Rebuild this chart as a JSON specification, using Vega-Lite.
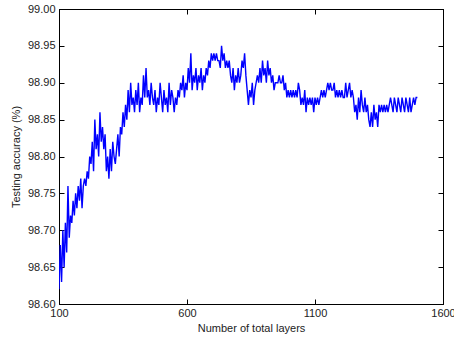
{
  "$schema": "https://vega.github.io/schema/vega-lite/v6.json",
  "width": 384,
  "height": 295,
  "autosize": {"type": "none"},
  "padding": {"left": 59, "top": 9, "right": 11, "bottom": 37},
  "background": "white",
  "config": {
    "view": {"stroke": "black", "strokeWidth": 1},
    "font": "Liberation Sans",
    "axis": {"grid": false, "domainColor": "black", "tickColor": "black", "labelColor": "#222", "titleColor": "#222", "labelFontSize": 11, "titleFontSize": 11, "titleFontWeight": "normal", "labelFont": "Liberation Sans", "titleFont": "Liberation Sans"}
  },
  "data": {"values": [
{"x":100,"y":98.62},{"x":105,"y":98.68},{"x":110,"y":98.63},{"x":115,"y":98.70},{"x":120,"y":98.65},{"x":125,"y":98.71},{"x":130,"y":98.67},{"x":135,"y":98.76},{"x":140,"y":98.69},{"x":145,"y":98.72},
{"x":150,"y":98.71},{"x":155,"y":98.74},{"x":160,"y":98.72},{"x":165,"y":98.75},{"x":170,"y":98.73},{"x":175,"y":98.76},{"x":180,"y":98.74},{"x":185,"y":98.77},{"x":190,"y":98.73},{"x":195,"y":98.76},
{"x":200,"y":98.77},{"x":205,"y":98.76},{"x":210,"y":98.78},{"x":215,"y":98.77},{"x":220,"y":98.80},{"x":225,"y":98.79},{"x":230,"y":98.82},{"x":235,"y":98.78},{"x":240,"y":98.85},{"x":245,"y":98.81},
{"x":250,"y":98.83},{"x":255,"y":98.80},{"x":260,"y":98.86},{"x":265,"y":98.82},{"x":270,"y":98.84},{"x":275,"y":98.81},{"x":280,"y":98.83},{"x":285,"y":98.78},{"x":290,"y":98.80},{"x":295,"y":98.77},
{"x":300,"y":98.81},{"x":305,"y":98.78},{"x":310,"y":98.82},{"x":315,"y":98.80},{"x":320,"y":98.79},{"x":325,"y":98.81},{"x":330,"y":98.83},{"x":335,"y":98.80},{"x":340,"y":98.84},{"x":345,"y":98.83},
{"x":350,"y":98.86},{"x":355,"y":98.84},{"x":360,"y":98.87},{"x":365,"y":98.85},{"x":370,"y":98.89},{"x":375,"y":98.86},{"x":380,"y":98.90},{"x":385,"y":98.87},{"x":390,"y":98.88},{"x":395,"y":98.86},
{"x":400,"y":98.89},{"x":405,"y":98.87},{"x":410,"y":98.90},{"x":415,"y":98.86},{"x":420,"y":98.88},{"x":425,"y":98.87},{"x":430,"y":98.91},{"x":435,"y":98.88},{"x":440,"y":98.92},{"x":445,"y":98.88},
{"x":450,"y":98.89},{"x":455,"y":98.87},{"x":460,"y":98.90},{"x":465,"y":98.88},{"x":470,"y":98.87},{"x":475,"y":98.89},{"x":480,"y":98.86},{"x":485,"y":98.88},{"x":490,"y":98.87},{"x":495,"y":98.90},
{"x":500,"y":98.88},{"x":505,"y":98.86},{"x":510,"y":98.89},{"x":515,"y":98.87},{"x":520,"y":98.88},{"x":525,"y":98.86},{"x":530,"y":98.90},{"x":535,"y":98.87},{"x":540,"y":98.89},{"x":545,"y":98.88},
{"x":550,"y":98.86},{"x":555,"y":98.88},{"x":560,"y":98.87},{"x":565,"y":98.89},{"x":570,"y":98.88},{"x":575,"y":98.90},{"x":580,"y":98.89},{"x":585,"y":98.91},{"x":590,"y":98.88},{"x":595,"y":98.90},
{"x":600,"y":98.89},{"x":605,"y":98.92},{"x":610,"y":98.90},{"x":615,"y":98.94},{"x":620,"y":98.89},{"x":625,"y":98.91},{"x":630,"y":98.90},{"x":635,"y":98.92},{"x":640,"y":98.89},{"x":645,"y":98.91},
{"x":650,"y":98.90},{"x":655,"y":98.92},{"x":660,"y":98.89},{"x":665,"y":98.91},{"x":670,"y":98.90},{"x":675,"y":98.92},{"x":680,"y":98.91},{"x":685,"y":98.93},{"x":690,"y":98.92},{"x":695,"y":98.94},
{"x":700,"y":98.93},{"x":705,"y":98.94},{"x":710,"y":98.93},{"x":715,"y":98.94},{"x":720,"y":98.93},{"x":725,"y":98.93},{"x":730,"y":98.92},{"x":735,"y":98.95},{"x":740,"y":98.93},{"x":745,"y":98.94},
{"x":750,"y":98.92},{"x":755,"y":98.93},{"x":760,"y":98.92},{"x":765,"y":98.93},{"x":770,"y":98.91},{"x":775,"y":98.90},{"x":780,"y":98.92},{"x":785,"y":98.89},{"x":790,"y":98.91},{"x":795,"y":98.90},
{"x":800,"y":98.92},{"x":805,"y":98.90},{"x":810,"y":98.91},{"x":815,"y":98.93},{"x":820,"y":98.92},{"x":825,"y":98.94},{"x":830,"y":98.91},{"x":835,"y":98.89},{"x":840,"y":98.87},{"x":845,"y":98.89},
{"x":850,"y":98.88},{"x":855,"y":98.90},{"x":860,"y":98.87},{"x":865,"y":98.89},{"x":870,"y":98.90},{"x":875,"y":98.91},{"x":880,"y":98.90},{"x":885,"y":98.92},{"x":890,"y":98.90},{"x":895,"y":98.93},
{"x":900,"y":98.91},{"x":905,"y":98.92},{"x":910,"y":98.90},{"x":915,"y":98.93},{"x":920,"y":98.91},{"x":925,"y":98.92},{"x":930,"y":98.90},{"x":935,"y":98.91},{"x":940,"y":98.89},{"x":945,"y":98.90},
{"x":950,"y":98.90},{"x":955,"y":98.90},{"x":960,"y":98.91},{"x":965,"y":98.90},{"x":970,"y":98.90},{"x":975,"y":98.91},{"x":980,"y":98.89},{"x":985,"y":98.90},{"x":990,"y":98.88},{"x":995,"y":98.89},
{"x":1000,"y":98.88},{"x":1005,"y":98.89},{"x":1010,"y":98.88},{"x":1015,"y":98.89},{"x":1020,"y":98.88},{"x":1025,"y":98.89},{"x":1030,"y":98.88},{"x":1035,"y":98.90},{"x":1040,"y":98.89},{"x":1045,"y":98.87},
{"x":1050,"y":98.88},{"x":1055,"y":98.87},{"x":1060,"y":98.89},{"x":1065,"y":98.86},{"x":1070,"y":98.88},{"x":1075,"y":98.87},{"x":1080,"y":98.88},{"x":1085,"y":98.87},{"x":1090,"y":98.88},{"x":1095,"y":98.86},
{"x":1100,"y":98.88},{"x":1105,"y":98.87},{"x":1110,"y":98.88},{"x":1115,"y":98.87},{"x":1120,"y":98.88},{"x":1125,"y":98.89},{"x":1130,"y":98.88},{"x":1135,"y":98.89},{"x":1140,"y":98.88},{"x":1145,"y":98.89},
{"x":1150,"y":98.90},{"x":1155,"y":98.89},{"x":1160,"y":98.90},{"x":1165,"y":98.89},{"x":1170,"y":98.89},{"x":1175,"y":98.90},{"x":1180,"y":98.88},{"x":1185,"y":98.89},{"x":1190,"y":98.88},{"x":1195,"y":98.89},
{"x":1200,"y":98.88},{"x":1205,"y":98.89},{"x":1210,"y":98.88},{"x":1215,"y":98.88},{"x":1220,"y":98.90},{"x":1225,"y":98.88},{"x":1230,"y":98.89},{"x":1235,"y":98.90},{"x":1240,"y":98.88},{"x":1245,"y":98.89},
{"x":1250,"y":98.88},{"x":1255,"y":98.86},{"x":1260,"y":98.87},{"x":1265,"y":98.85},{"x":1270,"y":98.88},{"x":1275,"y":98.86},{"x":1280,"y":98.89},{"x":1285,"y":98.87},{"x":1290,"y":98.86},{"x":1295,"y":98.88},
{"x":1300,"y":98.86},{"x":1305,"y":98.87},{"x":1310,"y":98.85},{"x":1315,"y":98.84},{"x":1320,"y":98.86},{"x":1325,"y":98.84},{"x":1330,"y":98.87},{"x":1335,"y":98.85},{"x":1340,"y":98.86},{"x":1345,"y":98.84},
{"x":1350,"y":98.87},{"x":1355,"y":98.86},{"x":1360,"y":98.87},{"x":1365,"y":98.86},{"x":1370,"y":98.87},{"x":1375,"y":98.86},{"x":1380,"y":98.87},{"x":1385,"y":98.86},{"x":1390,"y":98.87},{"x":1395,"y":98.88},
{"x":1400,"y":98.87},{"x":1405,"y":98.86},{"x":1410,"y":98.88},{"x":1415,"y":98.87},{"x":1420,"y":98.86},{"x":1425,"y":98.88},{"x":1430,"y":98.87},{"x":1435,"y":98.86},{"x":1440,"y":98.88},{"x":1445,"y":98.87},
{"x":1450,"y":98.86},{"x":1455,"y":98.88},{"x":1460,"y":98.87},{"x":1465,"y":98.86},{"x":1470,"y":98.88},{"x":1475,"y":98.86},{"x":1480,"y":98.87},{"x":1485,"y":98.88},{"x":1490,"y":98.87},{"x":1495,"y":98.88},
{"x":1500,"y":98.88}
  ]},
  "layer": [
    {
      "mark": {"type": "line", "color": "#0000ff", "strokeWidth": 1.4, "clip": true},
      "encoding": {
        "x": {"field": "x", "type": "quantitative", "scale": {"domain": [100, 1600], "nice": false, "zero": false},
              "axis": {"values": [100, 600, 1100, 1600], "format": "d", "title": "Number of total layers", "tickSize": -5, "labelPadding": 8, "titlePadding": 4, "labelFlush": false}},
        "y": {"field": "y", "type": "quantitative", "scale": {"domain": [98.6, 99.0], "nice": false, "zero": false},
              "axis": {"values": [98.6, 98.65, 98.7, 98.75, 98.8, 98.85, 98.9, 98.95, 99.0], "format": ".2f", "title": "Testing accuracy (%)", "tickSize": -5, "labelPadding": 9, "titlePadding": 6, "labelFlush": false}}
      }
    },
    {
      "mark": {"type": "line", "opacity": 0},
      "encoding": {
        "x": {"field": "x", "type": "quantitative", "scale": {"domain": [100, 1600], "nice": false, "zero": false},
              "axis": {"orient": "top", "values": [100, 600, 1100, 1600], "title": null, "labels": false, "tickSize": -5}},
        "y": {"field": "y", "type": "quantitative", "scale": {"domain": [98.6, 99.0], "nice": false, "zero": false},
              "axis": {"orient": "right", "values": [98.6, 98.65, 98.7, 98.75, 98.8, 98.85, 98.9, 98.95, 99.0], "title": null, "labels": false, "tickSize": -5}}
      }
    }
  ],
  "resolve": {"scale": {"x": "independent", "y": "independent"}}
}
